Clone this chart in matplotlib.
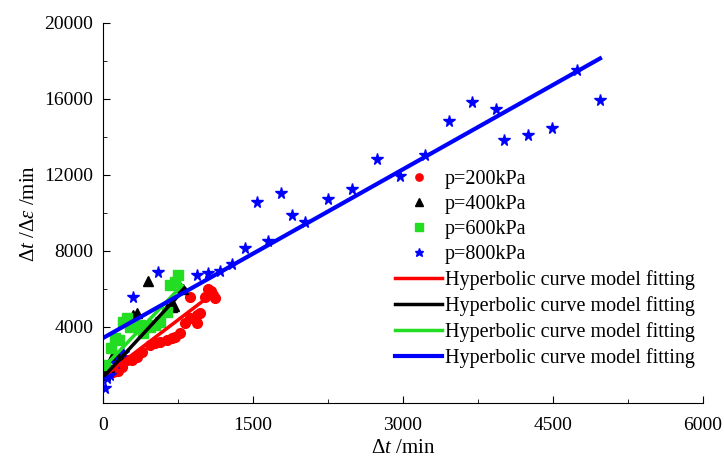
import numpy as np
import matplotlib
matplotlib.use('Agg')
from matplotlib import pyplot as plt
from matplotlib.ticker import MultipleLocator

plt.rcParams['font.family'] = 'Liberation Serif'
plt.rcParams['mathtext.fontset'] = 'custom'
plt.rcParams['mathtext.rm'] = 'Liberation Serif'
plt.rcParams['mathtext.it'] = 'Liberation Serif:italic'

# measured points (dt in min, dt/deps in min)
x200 = [100, 150, 190, 240, 290, 340, 390, 470, 520, 570, 640, 690, 720, 770,
        820, 870, 870, 940, 940, 970, 1020, 1050, 1080, 1100, 1120]
y200 = [1630, 1700, 1890, 2260, 2260, 2420, 2680, 3050, 3160, 3210, 3320, 3420, 3470, 3680,
        4210, 4470, 5600, 4210, 4630, 4740, 5600, 6000, 5900, 5700, 5500]

x400 = [20, 60, 90, 160, 300, 340, 450, 640, 690, 710, 770, 800]
y400 = [1470, 1900, 2420, 2500, 4630, 4740, 6420, 5000, 5050, 5100, 6100, 6000]

x600 = [20, 80, 120, 160, 200, 240, 270, 370, 400, 470, 520, 570, 640, 670, 720, 750]
y600 = [2000, 2900, 3420, 3300, 4260, 4470, 4000, 4100, 3680, 4000, 4100, 4260, 4790, 6210, 6370, 6740]

x800 = [20, 40, 70, 130, 200, 300, 550, 940, 1050, 1170, 1290, 1420, 1540, 1650, 1780,
        1890, 2020, 2250, 2490, 2740, 2970, 3220, 3460, 3690, 3930, 4010, 4250, 4490, 4740, 4970]
y800 = [790, 1320, 1470, 2100, 2630, 5580, 6890, 6740, 6840, 6950, 7320, 8160, 10580, 8530, 11050,
        9890, 9530, 10740, 11260, 12840, 11950, 13050, 14840, 15840, 15470, 13840, 14100, 14470, 17530, 15950]

# fitted lines: intercept, slope, x range
fit_a = [1370, 1350, 1840, 3420]
fit_b = [4.0, 5.7, 5.5, 2.96]
fit_x0 = [60, 20, 0, 0]
fit_x1 = [1120, 820, 790, 4970]

colors = ['red', 'black', '#22dd22', 'blue']
labels = ['p=200kPa', 'p=400kPa', 'p=600kPa', 'p=800kPa']

fig = plt.figure(figsize=(7.24, 4.59), dpi=100)
ax = fig.add_axes([0.1423, 0.122, 0.8287, 0.828])

ax.plot(x200, y200, 'o', color=colors[0], ms=7, ls='none', label=labels[0])
ax.plot(x400, y400, '^', color=colors[1], ms=7.5, ls='none', label=labels[1])
ax.plot(x600, y600, 's', color=colors[2], ms=7, ls='none', label=labels[2])
ax.plot(x800, y800, '*', color=colors[3], ms=8.5, ls='none', label=labels[3])

for i in range(4):
    xs = np.array([fit_x0[i], fit_x1[i]])
    ax.plot(xs, fit_a[i] + fit_b[i] * xs, '-', color=colors[i],
            lw=3 if i == 3 else 2.5, label='Hyperbolic curve model fitting')

ax.set_xlim(0, 6000)
ax.set_ylim(0, 20000)
ax.xaxis.set_major_locator(MultipleLocator(1500))
ax.xaxis.set_minor_locator(MultipleLocator(750))
ax.yaxis.set_minor_locator(MultipleLocator(2000))
ax.set_yticks([4000, 8000, 12000, 16000, 20000])
ax.tick_params(which='both', direction='in', labelsize=14, pad=7)
ax.tick_params(axis='x', which='both', pad=10)
ax.tick_params(which='major', length=5)
ax.tick_params(which='minor', length=3)
ax.spines['top'].set_visible(False)
ax.spines['right'].set_visible(False)

ax.set_xlabel(r'$\Delta t$ /min', fontsize=15, labelpad=4)
ax.set_ylabel(r'$\Delta t$ /$\Delta \varepsilon$ /min', fontsize=15, labelpad=4)

leg = ax.legend(loc='upper left', bbox_to_anchor=(0.473, 0.635), frameon=False,
                fontsize=14.5, handlelength=2.35, handletextpad=0.12,
                labelspacing=0.3, borderaxespad=0, markerscale=0.75)

plt.savefig('out.png', dpi=100)
